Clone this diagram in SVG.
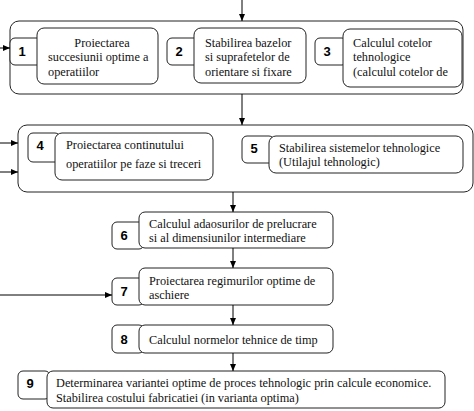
<svg xmlns="http://www.w3.org/2000/svg" width="474" height="411" viewBox="0 0 474 411">
<defs>
<marker id="ah" markerWidth="7" markerHeight="6" refX="7" refY="3" orient="auto" markerUnits="userSpaceOnUse">
<path d="M0,0 L7,3 L0,6 Z" fill="#000"/>
</marker>
<style>
rect{fill:#fff;stroke:#222;stroke-width:1}
.t{font-family:"Liberation Serif","Times New Roman",serif;font-size:12.3px;fill:#111}
.n{font-family:"Liberation Sans",Arial,sans-serif;font-size:13px;font-weight:bold;fill:#000;text-anchor:middle}
.c{stroke:#000;stroke-width:1;fill:none;marker-end:url(#ah)}
</style>
</defs>
<rect width="474" height="411" style="stroke:none"/>
<g id="group1">
<rect x="10" y="21" width="453" height="73" rx="9"/>
</g>
<g id="group2">
<rect x="18" y="125" width="455" height="67" rx="9"/>
</g>
<g id="node1">
<rect x="10" y="38" width="32" height="27" rx="5"/>
<rect x="37" y="28" width="121" height="56" rx="7"/>
<text class="n" x="22" y="56">1</text>
<text class="t" x="102" y="47" text-anchor="middle">Proiectarea</text>
<text class="t" x="48" y="61">succesiunii optime a</text>
<text class="t" x="48" y="76">operatiilor</text>
</g>
<g id="node2">
<rect x="167" y="38" width="32" height="27" rx="5"/>
<rect x="194" y="28" width="112" height="55" rx="7"/>
<text class="n" x="179" y="56">2</text>
<text class="t" x="205" y="47">Stabilirea bazelor</text>
<text class="t" x="205" y="61">si suprafetelor de</text>
<text class="t" x="205" y="76">orientare si fixare</text>
</g>
<g id="node3">
<rect x="315" y="38" width="32" height="27" rx="5"/>
<rect x="343" y="29" width="119" height="58" rx="7"/>
<text class="n" x="327" y="56">3</text>
<text class="t" x="353" y="47">Calculul cotelor</text>
<text class="t" x="353" y="61">tehnologice</text>
<text class="t" x="353" y="76">(calculul cotelor de</text>
</g>
<g id="node4">
<rect x="28" y="133" width="32" height="29" rx="5"/>
<rect x="55" y="133" width="158" height="47" rx="7"/>
<text class="n" x="40" y="150">4</text>
<text class="t" x="66" y="149">Proiectarea continutului</text>
<text class="t" x="66" y="168">operatiilor pe faze si treceri</text>
</g>
<g id="node5">
<rect x="242" y="136" width="32" height="27" rx="5"/>
<rect x="269" y="136" width="194" height="37" rx="7"/>
<text class="n" x="254" y="153">5</text>
<text class="t" x="279" y="152">Stabilirea sistemelor tehnologice</text>
<text class="t" x="279" y="166">(Utilajul tehnologic)</text>
</g>
<g id="node6">
<rect x="112" y="222" width="32" height="27" rx="5"/>
<rect x="139" y="212" width="194" height="36" rx="6"/>
<text class="n" x="124" y="240">6</text>
<text class="t" x="149" y="228">Calculul adaosurilor de prelucrare</text>
<text class="t" x="149" y="242">si al dimensiunilor intermediare</text>
</g>
<g id="node7">
<rect x="112" y="278" width="32" height="27" rx="5"/>
<rect x="139" y="268" width="194" height="37" rx="6"/>
<text class="n" x="124" y="296">7</text>
<text class="t" x="149" y="285">Proiectarea regimurilor optime de</text>
<text class="t" x="149" y="299">aschiere</text>
</g>
<g id="node8">
<rect x="112" y="325" width="32" height="28" rx="5"/>
<rect x="139" y="325" width="194" height="28" rx="6"/>
<text class="n" x="124" y="344">8</text>
<text class="t" x="149" y="344">Calculul normelor tehnice de timp</text>
</g>
<g id="node9">
<rect x="18" y="371" width="32" height="28" rx="5"/>
<rect x="47" y="371" width="398" height="37" rx="6"/>
<text class="n" x="30" y="388">9</text>
<text class="t" x="56" y="387">Determinarea variantei optime de proces tehnologic prin calcule economice.</text>
<text class="t" x="56" y="402">Stabilirea costului fabricatiei (in varianta optima)</text>
</g>
<g id="connectors">
<line class="c" x1="242" y1="0" x2="242" y2="21"/>
<line class="c" x1="0" y1="48" x2="10" y2="48"/>
<line class="c" x1="242" y1="94" x2="242" y2="125"/>
<line class="c" x1="0" y1="143" x2="18" y2="143"/>
<line class="c" x1="0" y1="172" x2="18" y2="172"/>
<line class="c" x1="233" y1="192" x2="233" y2="212"/>
<line class="c" x1="233" y1="248" x2="233" y2="268"/>
<line class="c" x1="0" y1="295" x2="112" y2="295"/>
<line class="c" x1="233" y1="305" x2="233" y2="325"/>
<line class="c" x1="233" y1="353" x2="233" y2="371"/>
</g>
</svg>
